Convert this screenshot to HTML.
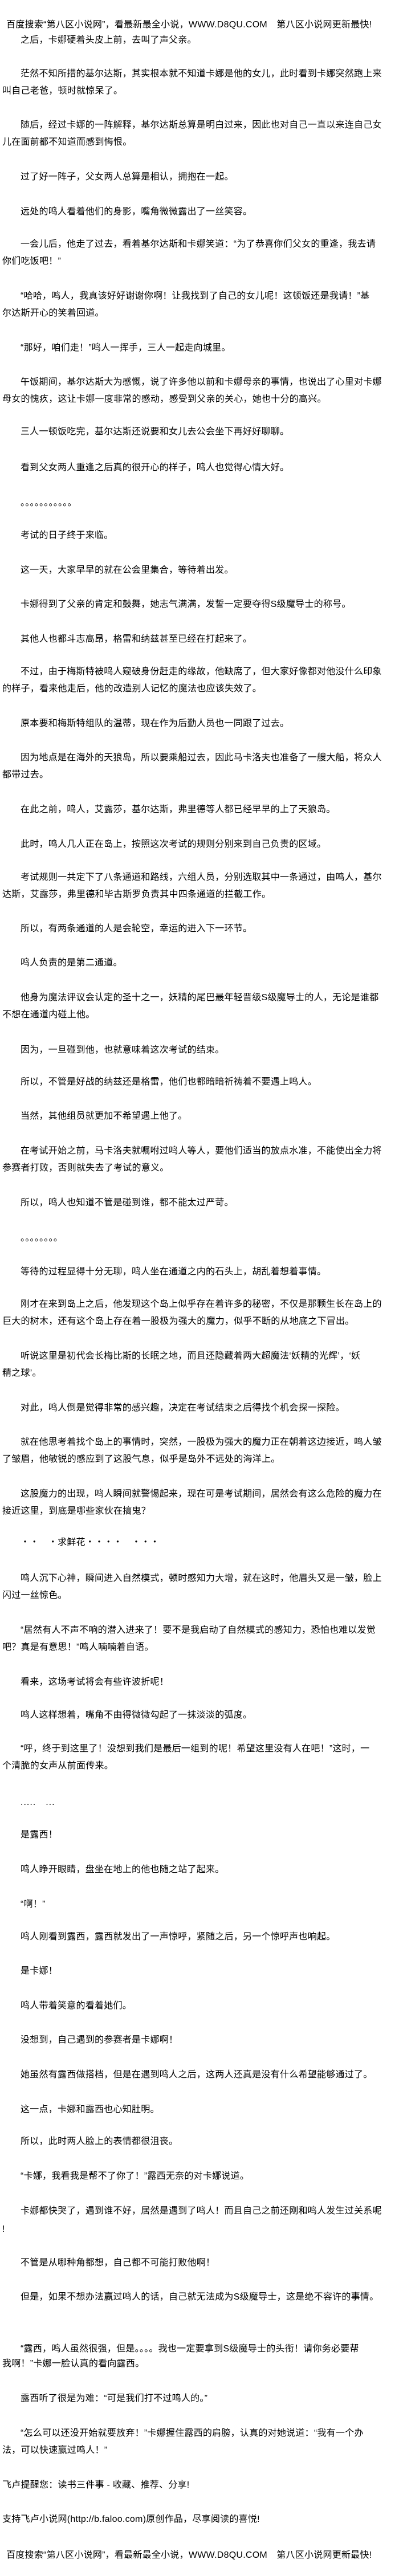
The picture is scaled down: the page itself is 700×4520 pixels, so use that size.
<!DOCTYPE html>
<html><head><meta charset="utf-8"><style>
html,body{margin:0;padding:0;background:#fff;}
body{width:700px;height:4520px;position:relative;overflow:hidden;font-family:"Liberation Sans","Noto Sans CJK SC","WenQuanYi Zen Hei",sans-serif;font-size:16px;color:#000;}
.l{position:absolute;left:4px;height:30px;line-height:30px;white-space:nowrap;letter-spacing:0.25px;}
.i{left:36px;}
.h{left:11px;}
.d{letter-spacing:1px;}
</style></head><body>
<div class="l h" style="top:29px">百度搜索“第八区小说网”，看最新最全小说，WWW.D8QU.COM　第八区小说网更新最快!</div>
<div class="l i" style="top:56px">之后，卡娜硬着头皮上前，去叫了声父亲。</div>
<div class="l i" style="top:115px">茫然不知所措的基尔达斯，其实根本就不知道卡娜是他的女儿，此时看到卡娜突然跑上来</div>
<div class="l" style="top:145px">叫自己老爸，顿时就惊呆了。</div>
<div class="l i" style="top:205px">随后，经过卡娜的一阵解释，基尔达斯总算是明白过来，因此也对自己一直以来连自己女</div>
<div class="l" style="top:235px">儿在面前都不知道而感到悔恨。</div>
<div class="l i" style="top:296px">过了好一阵子，父女两人总算是相认，拥抱在一起。</div>
<div class="l i" style="top:357px">远处的鸣人看着他们的身影，嘴角微微露出了一丝笑容。</div>
<div class="l i" style="top:414px">一会儿后，他走了过去，看着基尔达斯和卡娜笑道：“为了恭喜你们父女的重逢，我去请</div>
<div class="l" style="top:444px">你们吃饭吧！”</div>
<div class="l i" style="top:505px">“哈哈，鸣人，我真该好好谢谢你啊！让我找到了自己的女儿呢！这顿饭还是我请！”基</div>
<div class="l" style="top:535px">尔达斯开心的笑着回道。</div>
<div class="l i" style="top:596px">“那好，咱们走！”鸣人一挥手，三人一起走向城里。</div>
<div class="l i" style="top:656px">午饭期间，基尔达斯大为感慨，说了许多他以前和卡娜母亲的事情，也说出了心里对卡娜</div>
<div class="l" style="top:686px">母女的愧疚，这让卡娜一度非常的感动，感受到父亲的关心，她也十分的高兴。</div>
<div class="l i" style="top:743px">三人一顿饭吃完，基尔达斯还说要和女儿去公会坐下再好好聊聊。</div>
<div class="l i" style="top:806px">看到父女两人重逢之后真的很开心的样子，鸣人也觉得心情大好。</div>
<div class="l i" style="top:868px">。。。。。。。。。。。</div>
<div class="l i" style="top:925px">考试的日子终于来临。</div>
<div class="l i" style="top:986px">这一天，大家早早的就在公会里集合，等待着出发。</div>
<div class="l i" style="top:1046px">卡娜得到了父亲的肯定和鼓舞，她志气满满，发誓一定要夺得S级魔导士的称号。</div>
<div class="l i" style="top:1107px">其他人也都斗志高昂，格雷和纳兹甚至已经在打起来了。</div>
<div class="l i" style="top:1164px">不过，由于梅斯特被鸣人窥破身份赶走的缘故，他缺席了，但大家好像都对他没什么印象</div>
<div class="l" style="top:1194px">的样子，看来他走后，他的改造别人记忆的魔法也应该失效了。</div>
<div class="l i" style="top:1255px">原本要和梅斯特组队的温蒂，现在作为后勤人员也一同跟了过去。</div>
<div class="l i" style="top:1315px">因为地点是在海外的天狼岛，所以要乘船过去，因此马卡洛夫也准备了一艘大船，将众人</div>
<div class="l" style="top:1345px">都带过去。</div>
<div class="l i" style="top:1406px">在此之前，鸣人，艾露莎，基尔达斯，弗里德等人都已经早早的上了天狼岛。</div>
<div class="l i" style="top:1467px">此时，鸣人几人正在岛上，按照这次考试的规则分别来到自己负责的区域。</div>
<div class="l i" style="top:1525px">考试规则一共定下了八条通道和路线，六组人员，分别选取其中一条通过，由鸣人，基尔</div>
<div class="l" style="top:1555px">达斯，艾露莎，弗里德和毕古斯罗负责其中四条通道的拦截工作。</div>
<div class="l i" style="top:1615px">所以，有两条通道的人是会轮空，幸运的进入下一环节。</div>
<div class="l i" style="top:1675px">鸣人负责的是第二通道。</div>
<div class="l i" style="top:1736px">他身为魔法评议会认定的圣十之一，妖精的尾巴最年轻晋级S级魔导士的人，无论是谁都</div>
<div class="l" style="top:1766px">不想在通道内碰上他。</div>
<div class="l i" style="top:1828px">因为，一旦碰到他，也就意味着这次考试的结束。</div>
<div class="l i" style="top:1884px">所以，不管是好战的纳兹还是格雷，他们也都暗暗祈祷着不要遇上鸣人。</div>
<div class="l i" style="top:1944px">当然，其他组员就更加不希望遇上他了。</div>
<div class="l i" style="top:2005px">在考试开始之前，马卡洛夫就嘱咐过鸣人等人，要他们适当的放点水准，不能使出全力将</div>
<div class="l" style="top:2035px">参赛者打败，否则就失去了考试的意义。</div>
<div class="l i" style="top:2096px">所以，鸣人也知道不管是碰到谁，都不能太过严苛。</div>
<div class="l i" style="top:2158px">。。。。。。。。</div>
<div class="l i" style="top:2217px">等待的过程显得十分无聊，鸣人坐在通道之内的石头上，胡乱着想着事情。</div>
<div class="l i" style="top:2274px">刚才在来到岛上之后，他发现这个岛上似乎存在着许多的秘密，不仅是那颗生长在岛上的</div>
<div class="l" style="top:2304px">巨大的树木，还有这个岛上存在着一股极为强大的魔力，似乎不断的从地底之下冒出。</div>
<div class="l i" style="top:2365px">听说这里是初代会长梅比斯的长眠之地，而且还隐藏着两大超魔法‘妖精的光辉’，‘妖</div>
<div class="l" style="top:2395px">精之球’。</div>
<div class="l i" style="top:2456px">对此，鸣人倒是觉得非常的感兴趣，决定在考试结束之后得找个机会探一探险。</div>
<div class="l i" style="top:2516px">就在他思考着找个岛上的事情时，突然，一股极为强大的魔力正在朝着这边接近，鸣人皱</div>
<div class="l" style="top:2546px">了皱眉，他敏锐的感应到了这股气息，似乎是岛外不远处的海洋上。</div>
<div class="l i" style="top:2607px">这股魔力的出现，鸣人瞬间就警惕起来，现在可是考试期间，居然会有这么危险的魔力在</div>
<div class="l" style="top:2637px">接近这里，到底是哪些家伙在搞鬼？</div>
<div class="l i" style="top:2692px">・・　・求鲜花・・・・　・・・</div>
<div class="l i" style="top:2755px">鸣人沉下心神，瞬间进入自然模式，顿时感知力大增，就在这时，他眉头又是一皱，脸上</div>
<div class="l" style="top:2785px">闪过一丝惊色。</div>
<div class="l i" style="top:2846px">“居然有人不声不响的潜入进来了！要不是我启动了自然模式的感知力，恐怕也难以发觉</div>
<div class="l" style="top:2876px">吧？真是有意思！”鸣人喃喃着自语。</div>
<div class="l i" style="top:2937px">看来，这场考试将会有些许波折呢！</div>
<div class="l i" style="top:2995px">鸣人这样想着，嘴角不由得微微勾起了一抹淡淡的弧度。</div>
<div class="l i" style="top:3054px">“呼，终于到这里了！没想到我们是最后一组到的呢！希望这里没有人在吧！”这时，一</div>
<div class="l" style="top:3084px">个清脆的女声从前面传来。</div>
<div class="l i d" style="top:3148px">.....　...</div>
<div class="l i" style="top:3205px">是露西！</div>
<div class="l i" style="top:3266px">鸣人睁开眼睛，盘坐在地上的他也随之站了起来。</div>
<div class="l i" style="top:3327px">“啊！”</div>
<div class="l i" style="top:3384px">鸣人刚看到露西，露西就发出了一声惊呼，紧随之后，另一个惊呼声也响起。</div>
<div class="l i" style="top:3444px">是卡娜！</div>
<div class="l i" style="top:3505px">鸣人带着笑意的看着她们。</div>
<div class="l i" style="top:3565px">没想到，自己遇到的参赛者是卡娜啊！</div>
<div class="l i" style="top:3626px">她虽然有露西做搭档，但是在遇到鸣人之后，这两人还真是没有什么希望能够通过了。</div>
<div class="l i" style="top:3687px">这一点，卡娜和露西也心知肚明。</div>
<div class="l i" style="top:3743px">所以，此时两人脸上的表情都很沮丧。</div>
<div class="l i" style="top:3804px">“卡娜，我看我是帮不了你了！”露西无奈的对卡娜说道。</div>
<div class="l i" style="top:3865px">卡娜都快哭了，遇到谁不好，居然是遇到了鸣人！而且自己之前还刚和鸣人发生过关系呢</div>
<div class="l" style="top:3897px">!</div>
<div class="l i" style="top:3956px">不管是从哪种角都想，自己都不可能打败他啊！</div>
<div class="l i" style="top:4016px">但是，如果不想办法赢过鸣人的话，自己就无法成为S级魔导士，这是绝不容许的事情。</div>
<div class="l i" style="top:4107px">“露西，鸣人虽然很强，但是。。。。我也一定要拿到S级魔导士的头衔！请你务必要帮</div>
<div class="l" style="top:4133px">我啊！”卡娜一脸认真的看向露西。</div>
<div class="l i" style="top:4194px">露西听了很是为难：“可是我们打不过鸣人的。”</div>
<div class="l i" style="top:4255px">“怎么可以还没开始就要放弃！”卡娜握住露西的肩膀，认真的对她说道：“我有一个办</div>
<div class="l" style="top:4285px">法，可以快速赢过鸣人！”</div>
<div class="l" style="top:4346px">飞卢提醒您：读书三件事 - 收藏、推荐、分享!</div>
<div class="l" style="top:4406px">支持飞卢小说网(http://b.faloo.com)原创作品，尽享阅读的喜悦!</div>
<div class="l h" style="top:4469px">百度搜索“第八区小说网”，看最新最全小说，WWW.D8QU.COM　第八区小说网更新最快!</div>
</body></html>
